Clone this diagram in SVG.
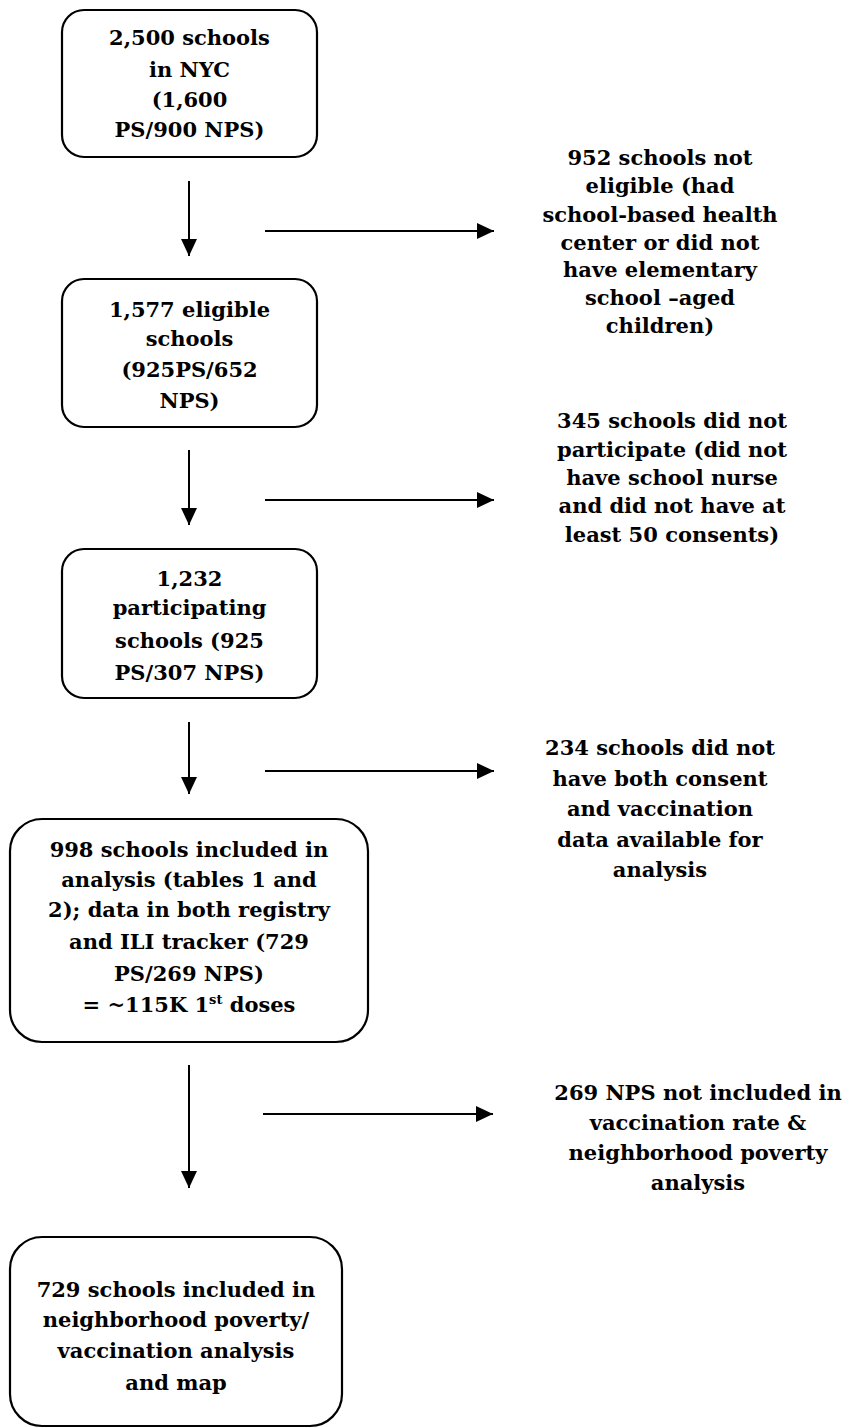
<svg xmlns="http://www.w3.org/2000/svg" width="849" height="1428" viewBox="0 0 849 1428">
<style>
.box{fill:#fff;stroke:#000;stroke-width:2.2}
.t{font-family:"DejaVu Serif","Liberation Serif",serif;font-weight:bold;font-size:21px;fill:#000;text-anchor:middle}
.c{stroke:#000;stroke-width:2;fill:none;marker-end:url(#ah)}
</style>
<defs>
<marker id="ah" markerUnits="userSpaceOnUse" markerWidth="17" markerHeight="16" refX="17" refY="8" orient="auto">
<path d="M0,0 L17,8 L0,16 z" fill="#000"/>
</marker>
</defs>
<rect width="849" height="1428" fill="#fff"/>
<g id="connectors">
<line class="c" x1="189" y1="181" x2="189" y2="256"/>
<line class="c" x1="265" y1="231" x2="494" y2="231"/>
<line class="c" x1="189" y1="450" x2="189" y2="525"/>
<line class="c" x1="265" y1="500" x2="494" y2="500"/>
<line class="c" x1="189" y1="722" x2="189" y2="794"/>
<line class="c" x1="265" y1="771" x2="494" y2="771"/>
<line class="c" x1="189" y1="1065" x2="189" y2="1188"/>
<line class="c" x1="263" y1="1114" x2="493" y2="1114"/>
</g>
<g id="n1">
<rect class="box" x="62" y="10" width="255" height="147" rx="22"/>
<text class="t" x="189.5" y="45">2,500 schools</text>
<text class="t" x="189.5" y="77">in NYC</text>
<text class="t" x="189.5" y="107">(1,600</text>
<text class="t" x="189.5" y="137">PS/900 NPS)</text>
</g>
<g id="n2">
<rect class="box" x="62" y="279" width="255" height="148" rx="22"/>
<text class="t" x="189.5" y="317">1,577 eligible</text>
<text class="t" x="189.5" y="346">schools</text>
<text class="t" x="189.5" y="377">(925PS/652</text>
<text class="t" x="189.5" y="408">NPS)</text>
</g>
<g id="n3">
<rect class="box" x="62" y="549" width="255" height="149" rx="22"/>
<text class="t" x="189.5" y="586">1,232</text>
<text class="t" x="189.5" y="615">participating</text>
<text class="t" x="189.5" y="648">schools (925</text>
<text class="t" x="189.5" y="680">PS/307 NPS)</text>
</g>
<g id="n4">
<rect class="box" x="10" y="819" width="358" height="223" rx="32"/>
<text class="t" x="189" y="857">998 schools included in</text>
<text class="t" x="189" y="887">analysis (tables 1 and</text>
<text class="t" x="189" y="917">2); data in both registry</text>
<text class="t" x="189" y="949">and ILI tracker (729</text>
<text class="t" x="189" y="981">PS/269 NPS)</text>
<text class="t" x="189" y="1012">= ~115K 1<tspan dy="-8" font-size="13">st</tspan><tspan dy="8"> doses</tspan></text>
</g>
<g id="n5">
<rect class="box" x="10" y="1237" width="332" height="189" rx="32"/>
<text class="t" x="176" y="1297">729 schools included in</text>
<text class="t" x="176" y="1327">neighborhood poverty/</text>
<text class="t" x="176" y="1358">vaccination analysis</text>
<text class="t" x="176" y="1390">and map</text>
</g>
<g id="x1">
<text class="t" x="660" y="165">952 schools not</text>
<text class="t" x="660" y="193">eligible (had</text>
<text class="t" x="660" y="222">school-based health</text>
<text class="t" x="660" y="250">center or did not</text>
<text class="t" x="660" y="277">have elementary</text>
<text class="t" x="660" y="305">school –aged</text>
<text class="t" x="660" y="333">children)</text>
</g>
<g id="x2">
<text class="t" x="672" y="428">345 schools did not</text>
<text class="t" x="672" y="457">participate (did not</text>
<text class="t" x="672" y="485">have school nurse</text>
<text class="t" x="672" y="513">and did not have at</text>
<text class="t" x="672" y="542">least 50 consents)</text>
</g>
<g id="x3">
<text class="t" x="660" y="755">234 schools did not</text>
<text class="t" x="660" y="786">have both consent</text>
<text class="t" x="660" y="816">and vaccination</text>
<text class="t" x="660" y="847">data available for</text>
<text class="t" x="660" y="877">analysis</text>
</g>
<g id="x4">
<text class="t" x="698" y="1100">269 NPS not included in</text>
<text class="t" x="698" y="1130">vaccination rate &amp;</text>
<text class="t" x="698" y="1160">neighborhood poverty</text>
<text class="t" x="698" y="1190">analysis</text>
</g>
</svg>
